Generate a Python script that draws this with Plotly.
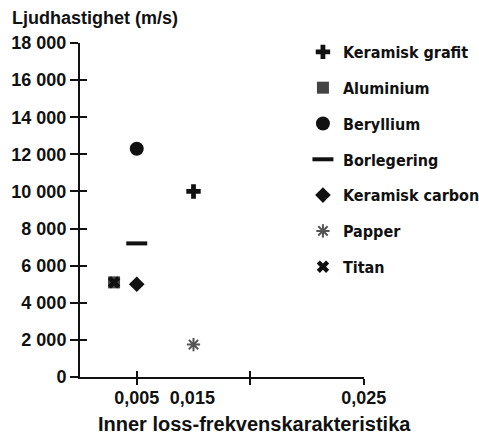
import plotly.graph_objects as go

# material data
materials = ["Keramisk grafit", "Aluminium", "Beryllium", "Borlegering",
             "Keramisk carbon", "Papper", "Titan"]
loss_factor = [0.010, 0.003, 0.005, 0.005, 0.005, 0.010, 0.003]
sound_speed = [10000, 5100, 12300, 7200, 5000, 1750, 5100]

symbols = ["cross", "square", "circle", "line-ew-open", "diamond", "asterisk-open", "x"]
colors = ["#111", "#444", "#111", "#111", "#111", "#555", "#111"]
sizes = [12, 12, 14, 15, 12, 11, 11]

y_ticks = [0, 2000, 4000, 6000, 8000, 10000, 12000, 14000, 16000, 18000]
x_tick_marks = [0.005, 0.015, 0.025]
x_label_pos = [0.005, 0.0099, 0.025]
x_label_text = ["0,005", "0,015", "0,025"]

axis_font = dict(family="Liberation Sans, Arial, sans-serif", size=18, color="#111", weight="bold")
xtitle_font = dict(family="Liberation Sans, Arial, sans-serif", size=20, color="#111", weight="bold")
legend_font = dict(family="Liberation Sans Narrow, DejaVu Sans Condensed, sans-serif",
                   size=16, color="#111", weight="bold")

fig = go.Figure()
for i, name in enumerate(materials):
    mk = dict(symbol=symbols[i], color=colors[i], size=sizes[i])
    if symbols[i].endswith("open"):
        mk["line"] = dict(color=colors[i], width=4 if symbols[i] == "line-ew-open" else 2)
    fig.add_trace(go.Scatter(x=[loss_factor[i]], y=[sound_speed[i]], mode="markers",
                             name=name, marker=mk, legendgroup=name))

# empty helper traces so the overlay axes (crossing ticks, shifted labels) get drawn
for xa, ya in [("x2", "y"), ("x3", "y"), ("x", "y2")]:
    fig.add_trace(go.Scatter(x=[None], y=[None], xaxis=xa, yaxis=ya,
                             showlegend=False, hoverinfo="skip"))

x_range = [0, 0.02502]
y_range = [0, 18000]

fig.update_layout(
    width=479, height=434,
    margin=dict(l=80, r=115, t=43, b=57, autoexpand=False),
    plot_bgcolor="white", paper_bgcolor="white",
    separators=", ",
    showlegend=True,
    legend=dict(x=0.785, y=1.024, xanchor="left", yanchor="top", font=legend_font,
                tracegroupgap=12, bgcolor="rgba(0,0,0,0)", maxheight=1),
    xaxis=dict(range=x_range, showline=True, linecolor="#111", linewidth=2,
               showgrid=False, zeroline=False, tickmode="array",
               tickvals=x_tick_marks, showticklabels=False, ticks="outside",
               ticklen=6, tickwidth=2, tickcolor="#111"),
    xaxis2=dict(range=x_range, overlaying="x", anchor="y", showline=False,
                showgrid=False, zeroline=False, tickmode="array",
                tickvals=x_label_pos, ticktext=x_label_text, ticks="outside",
                ticklen=4, tickcolor="rgba(0,0,0,0)", tickfont=axis_font),
    xaxis3=dict(range=x_range, overlaying="x", anchor="y", showline=False,
                showgrid=False, zeroline=False, tickmode="array",
                tickvals=x_tick_marks, showticklabels=False, ticks="inside",
                ticklen=6, tickwidth=2, tickcolor="#111"),
    yaxis=dict(range=y_range, showline=True,
               linecolor="#111", linewidth=2, showgrid=False, zeroline=False,
               tickmode="array", tickvals=y_ticks, tickformat=",d", ticks="outside",
               ticklen=8, tickwidth=2, tickcolor="#111", tickfont=axis_font),
    yaxis2=dict(range=y_range, overlaying="y", anchor="x",
                showline=False, showgrid=False, zeroline=False, tickmode="array",
                tickvals=y_ticks, showticklabels=False, ticks="inside",
                ticklen=7, tickwidth=2, tickcolor="#111"),
    annotations=[
        dict(text="Ljudhastighet (m/s)", xref="paper", yref="paper", x=-0.248, y=1.075,
             xanchor="left", yanchor="middle", showarrow=False, font=axis_font),
        dict(text="Inner loss-frekvenskarakteristika", xref="paper", yref="paper",
             x=0.616, y=-0.14, xanchor="center", yanchor="middle", showarrow=False,
             font=xtitle_font),
    ],
)

fig.write_html("out.html", config={"displayModeBar": False},
               post_script="document.body.style.margin='0';")
